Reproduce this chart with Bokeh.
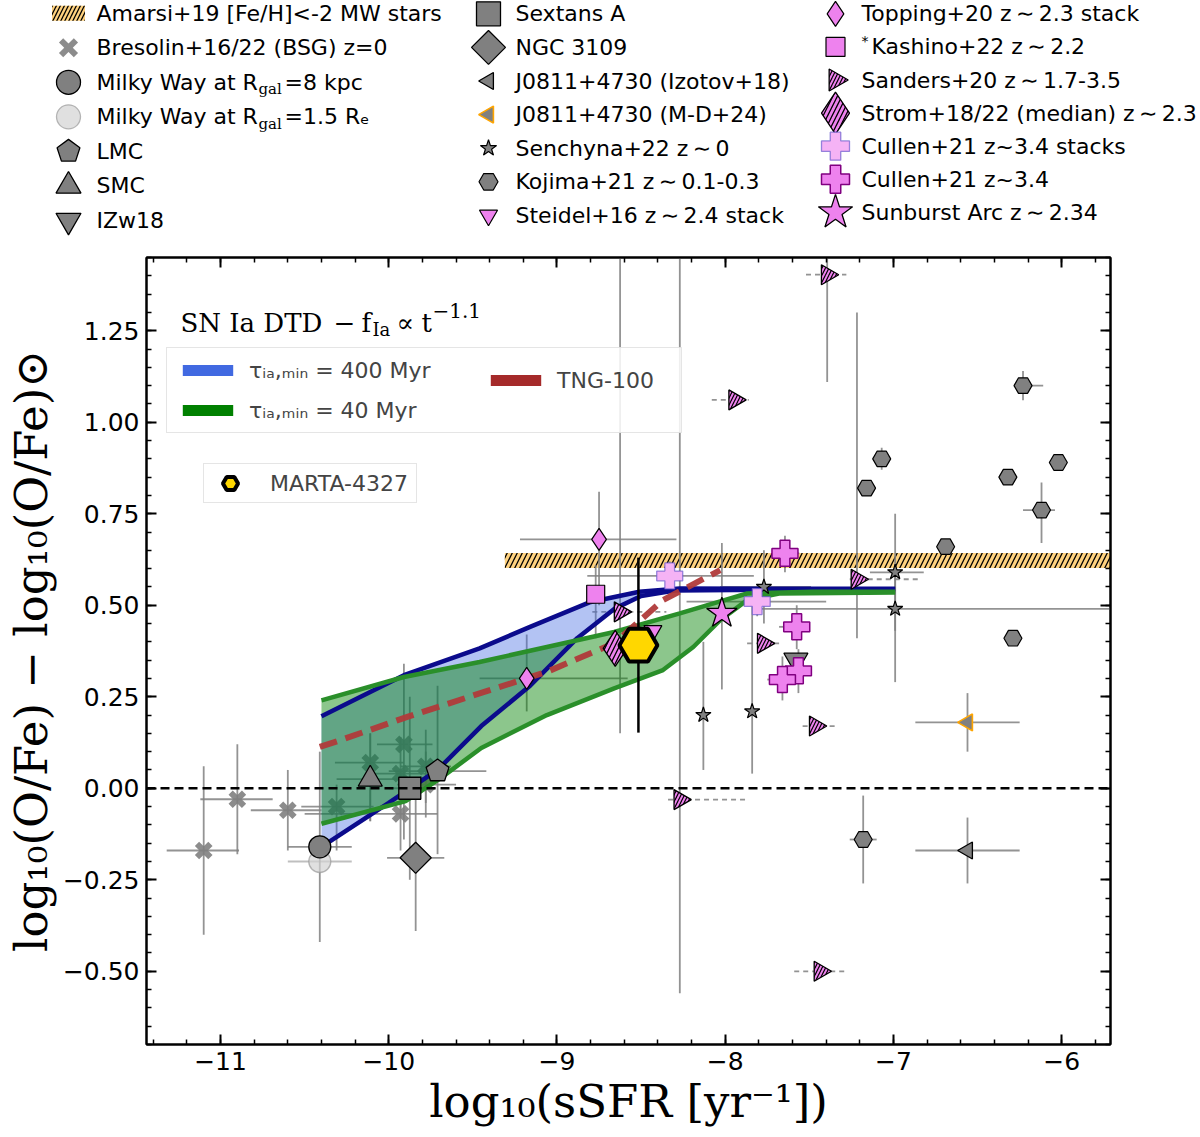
import math
from bokeh.plotting import figure
from bokeh.models import Range1d, FixedTicker, LinearAxis, Span, Legend, LegendItem, Label
from bokeh.core.properties import value
from bokeh.embed import file_html
from bokeh.resources import INLINE

NaN = float("nan")

# ---------------- axis ticks ----------------
x_major_ticks = [-11, -10, -9, -8, -7, -6]
x_major_labels = ["−11", "−10", "−9", "−8", "−7", "−6"]
y_major_ticks = [-0.5, -0.25, 0.0, 0.25, 0.5, 0.75, 1.0, 1.25]
y_major_labels = ["−0.50", "−0.25", "0.00", "0.25", "0.50", "0.75", "1.00", "1.25"]

# ---------------- data ----------------
amarsi_x = [-9.31, -5.71]
amarsi_y = [0.602, 0.643]

bres_x   = [-11.10, -10.90, -10.60, -10.31, -10.11, -9.91, -9.93, -9.78, -9.93, -9.78]
bres_y   = [-0.17, -0.03, -0.06, -0.05, 0.07, 0.12, 0.04, 0.06, -0.07, 0.01]
bres_xlo = [-11.32, -11.12, -10.82, -10.52, -10.32, -10.07, -10.08, -9.93, -10.50, -9.95]
bres_xhi = [-10.89, -10.69, -10.40, -10.09, -9.91, -9.74, -9.78, -9.63, -9.71, -9.60]
bres_ylo = [-0.40, -0.18, -0.17, -0.17, -0.09, -0.14, -0.06, -0.04, -0.17, -0.08]
bres_yhi = [0.06, 0.12, 0.05, 0.01, 0.15, 0.34, 0.14, 0.16, 0.03, 0.10]

mw8_x, mw8_y = [-10.41], [-0.16]
mw8_xlo, mw8_xhi, mw8_ylo, mw8_yhi = [-10.60], [-10.22], [-0.42], [0.10]
mw15_x, mw15_y = [-10.41], [-0.20]
mw15_xlo, mw15_xhi, mw15_ylo, mw15_yhi = [-10.60], [-10.22], [NaN], [NaN]
lmc_x, lmc_y = [-9.71], [0.047]
lmc_xlo, lmc_xhi, lmc_ylo, lmc_yhi = [-10.0], [-9.42], [-0.18], [0.28]
smc_x, smc_y = [-10.11], [0.025]
smc_xlo, smc_xhi, smc_ylo, smc_yhi = [-10.31], [-9.91], [-0.09], [0.15]
sext_x, sext_y = [-9.875], [0.0]
sext_xlo, sext_xhi, sext_ylo, sext_yhi = [-10.0], [-9.72], [-0.25], [0.25]
ngc_x, ngc_y = [-9.84], [-0.19]
ngc_xlo, ngc_xhi, ngc_ylo, ngc_yhi = [-10.01], [-9.67], [-0.39], [0.01]
izw_x, izw_y = [-7.58], [0.35]
jiz_x, jiz_y = [-6.56], [-0.17]
jiz_xlo, jiz_xhi, jiz_ylo, jiz_yhi = [-6.87], [-6.25], [-0.26], [-0.08]
jmd_x, jmd_y = [-6.56], [0.18]
jmd_xlo, jmd_xhi, jmd_ylo, jmd_yhi = [-6.87], [-6.25], [0.10], [0.26]

sen_x   = [-8.13, -7.84, -7.77, -6.99, -6.99]
sen_y   = [0.20, 0.21, 0.55, 0.59, 0.49]
sen_xlo = [NaN, NaN, -8.03, -7.14, -7.79]
sen_xhi = [NaN, NaN, -7.49, -6.82, -5.60]
sen_ylo = [0.05, 0.04, 0.45, 0.43, 0.29]
sen_yhi = [0.40, 0.50, 0.65, 0.75, 0.60]

koj_x   = [-7.07, -7.16, -6.69, -6.23, -6.32, -6.02, -6.12, -6.29, -7.18]
koj_y   = [0.90, 0.82, 0.66, 1.10, 0.85, 0.89, 0.76, 0.41, -0.14]
koj_xlo = [NaN, NaN, NaN, -6.27, NaN, NaN, -6.23, NaN, -7.26]
koj_xhi = [NaN, NaN, NaN, -6.11, NaN, NaN, -6.04, NaN, -7.10]
koj_ylo = [0.87, NaN, NaN, 1.06, NaN, NaN, 0.67, NaN, -0.26]
koj_yhi = [0.93, NaN, NaN, 1.14, NaN, NaN, 0.835, NaN, -0.02]

steidel_x, steidel_y = [-8.43], [0.43]

top_x   = [-8.75, -9.18]
top_y   = [0.68, 0.30]
top_xlo = [-9.22, -9.46]
top_xhi = [-8.29, -8.58]
top_ylo = [0.50, 0.21]
top_yhi = [0.81, 0.42]

kash_x, kash_y = [-8.77], [0.53]
kash_xlo, kash_xhi, kash_ylo, kash_yhi = [NaN], [NaN], [0.41], [0.61]

san_x   = [-7.394, -7.944, -7.217, -8.625, -7.774, -7.465, -8.27, -7.437]
san_y   = [1.403, 1.061, 0.571, 0.482, 0.396, 0.17, -0.031, -0.50]
san_xlo = [-7.52, -8.08, -7.26, -8.79, -7.87, -7.54, -8.34, -7.59]
san_xhi = [-7.28, -7.86, -6.84, -8.35, -7.68, -7.34, -7.88, -7.29]
san_ylo = [1.11, NaN, 0.41, 0.15, NaN, NaN, -0.56, NaN]
san_yhi = [1.60, NaN, 1.30, 1.60, NaN, NaN, 1.60, NaN]

strom_x, strom_y = [-8.654], [0.382]

cst_x   = [-8.33, -7.81]
cst_y   = [0.58, 0.51]
cst_xlo = [-8.82, -8.23]
cst_xhi = [-7.83, -7.40]
cst_ylo = [0.54, 0.47]
cst_yhi = [0.62, 0.55]

cul_x   = [-7.645, -7.575, -7.565, -7.66]
cul_y   = [0.642, 0.441, 0.321, 0.297]
cul_xlo = [-7.72, -7.68, NaN, -7.75]
cul_xhi = [-7.56, -7.50, NaN, -7.60]
cul_ylo = [0.59, 0.38, 0.26, 0.24]
cul_yhi = [0.69, 0.50, 0.38, 0.36]

sun_x, sun_y = [-8.02], [0.478]
sun_xlo, sun_xhi, sun_ylo, sun_yhi = [NaN], [NaN], [0.27], [0.67]

marta_x, marta_y = [-8.516], [0.391]
marta_ylo, marta_yhi = [0.152], [0.63]

# SN Ia DTD model envelopes
t400_up_x = [-10.40, -9.91, -9.46, -9.16, -8.80, -8.51, -8.27, -7.80, -7.40, -6.99]
t400_up_y = [0.197, 0.309, 0.382, 0.441, 0.509, 0.537, 0.546, 0.545, 0.545, 0.545]
t400_lo_x = [-10.40, -10.00, -9.71, -9.45, -9.16, -8.88, -8.66, -8.50, -8.30, -7.50, -6.99]
t400_lo_y = [-0.160, -0.040, 0.050, 0.170, 0.280, 0.410, 0.490, 0.525, 0.540, 0.543, 0.543]
t40_up_x = [-10.40, -9.91, -9.46, -9.06, -8.66, -8.27, -8.07, -7.87, -7.48, -6.99]
t40_up_y = [0.240, 0.304, 0.345, 0.386, 0.427, 0.478, 0.505, 0.532, 0.537, 0.537]
t40_lo_x = [-10.40, -9.90, -9.70, -9.45, -9.06, -8.66, -8.37, -8.19, -8.03, -7.87, -7.68, -6.99]
t40_lo_y = [-0.097, -0.035, 0.025, 0.110, 0.200, 0.273, 0.323, 0.386, 0.459, 0.514, 0.532, 0.535]
tng_x = [-10.41, -10.29, -9.89, -9.46, -9.06, -8.66, -8.37, -8.03]
tng_y = [0.113, 0.131, 0.195, 0.259, 0.318, 0.396, 0.514, 0.596]

# ---------------- layout ----------------
X_RANGE = (-11.44, -5.71)
Y_RANGE = (-0.70, 1.45)
W, H_HDR, H_MAIN = 1200, 240, 897
BL, BR, BT, BB = 146, 90, 17, 93
FW = W - BL - BR
FH = H_MAIN - BT - BB
PAGE_TOP = H_HDR + BT  # frame top in page px


def dx(px):
    return X_RANGE[0] + (px - BL) / FW * (X_RANGE[1] - X_RANGE[0])


def dy(py):
    return Y_RANGE[1] - (py - PAGE_TOP) / FH * (Y_RANGE[1] - Y_RANGE[0])


def ly(py):
    # legend bottom offset (screen px above frame bottom) for a page-y
    return FH - (py - PAGE_TOP)


UX = (X_RANGE[1] - X_RANGE[0]) / FW   # data units per pixel
UY = (Y_RANGE[1] - Y_RANGE[0]) / FH

GRAY = "#808080"
VIOLET = "#EE82EE"
SANS = "DejaVu Sans"
SERIF = "DejaVu Serif"

STY = {
    "bres": dict(marker="x", size=19, line_color=GRAY, line_width=6, line_alpha=0.9),
    "mw8": dict(marker="circle", size=22, fill_color=GRAY, line_color="black", line_width=1.3),
    "mw15": dict(marker="circle", size=22, fill_color="#d3d3d3", fill_alpha=0.7,
                 line_color="#9a9a9a", line_width=1.3, line_alpha=0.7),
    "smc": dict(marker="triangle", size=24, fill_color=GRAY, line_color="black", line_width=1.3),
    "izw": dict(marker="inverted_triangle", size=24, fill_color=GRAY, line_color="black", line_width=1.3),
    "sext": dict(marker="square", size=22, fill_color=GRAY, line_color="black", line_width=1.3),
    "ngc": dict(marker="square", size=22, angle=math.pi / 4, fill_color=GRAY, line_color="black", line_width=1.3),
    "jiz": dict(marker="triangle", size=17, angle=math.pi / 2, fill_color=GRAY, line_color="black", line_width=1.3),
    "jmd": dict(marker="triangle", size=17, angle=math.pi / 2, fill_color=GRAY, line_color="orange", line_width=1.6),
    "sen": dict(marker="star", size=16, fill_color=GRAY, line_color="black", line_width=1.2),
    "koj": dict(marker="hex", size=18, fill_color=GRAY, line_color="black", line_width=1.2),
    "steidel": dict(marker="inverted_triangle", size=18, fill_color=VIOLET, line_color="black", line_width=1.2),
    "top": dict(marker="diamond", size=24, fill_color=VIOLET, line_color="black", line_width=1.2),
    "kash": dict(marker="square", size=19, fill_color=VIOLET, line_color="black", line_width=1.2),
    "san": dict(marker="triangle", size=21, angle=-math.pi / 2, fill_color=VIOLET, line_color="black",
                line_width=1.3, hatch_pattern="/", hatch_color="black", hatch_scale=7, hatch_weight=1.2),
    "strom": dict(marker="diamond", size=40, fill_color=VIOLET, line_color="black", line_width=1.3,
                  hatch_pattern="/", hatch_color="black", hatch_scale=9, hatch_weight=1.3),
    "cst": dict(marker="plus", size=27, fill_color="#f5b3f5", line_color="#6a5acd", line_alpha=0.7, line_width=1.3),
    "cul": dict(marker="plus", size=27, fill_color=VIOLET, line_color="purple", line_width=1.5),
    "sun": dict(marker="star", size=34, fill_color=VIOLET, line_color="black", line_width=1.3),
    "lmc": dict(fill_color=GRAY, line_color="black", line_width=1.3),
}


def seg_lists(xs, ys, lo, hi, horizontal):
    x0, y0, x1, y1 = [], [], [], []
    for xi, yi, a, b in zip(xs, ys, lo, hi):
        if math.isnan(a) or math.isnan(b):
            continue
        if horizontal:
            x0.append(a); x1.append(b); y0.append(yi); y1.append(yi)
        else:
            x0.append(xi); x1.append(xi); y0.append(a); y1.append(b)
    return x0, y0, x1, y1


def errorbars(fig, xs, ys, xlo, xhi, ylo, yhi, color=GRAY, alpha=0.85, width=1.8, xdash="solid"):
    a = seg_lists(xs, ys, xlo, xhi, True)
    if a[0]:
        fig.segment(x0=a[0], y0=a[1], x1=a[2], y1=a[3], line_color=color,
                    line_alpha=alpha, line_width=width, line_dash=xdash)
    b = seg_lists(xs, ys, ylo, yhi, False)
    if b[0]:
        fig.segment(x0=b[0], y0=b[1], x1=b[2], y1=b[3], line_color=color,
                    line_alpha=alpha, line_width=width)


def pentagon(cx, cy, r, ux, uy):
    xs, ys = [], []
    for k in range(5):
        a = math.pi / 2 + 2 * math.pi * k / 5
        xs.append(cx + r * math.cos(a) * ux)
        ys.append(cy + r * math.sin(a) * uy)
    return xs, ys


# ---------------- main figure ----------------
p = figure(width=W, height=H_MAIN, x_range=Range1d(*X_RANGE), y_range=Range1d(*Y_RANGE),
           output_backend="svg", toolbar_location=None,
           min_border_left=BL, min_border_right=BR, min_border_top=BT, min_border_bottom=BB)
p.grid.visible = False
p.outline_line_color = "black"
p.outline_line_width = 2
p.background_fill_color = "white"

minor_x = [round(-11.4 + 0.2 * i, 3) for i in range(29)]
minor_y = [round(-0.70 + 0.05 * i, 3) for i in range(44)]


def style_axis(ax):
    ax.major_tick_in = 10
    ax.major_tick_out = 0
    ax.minor_tick_in = 5
    ax.minor_tick_out = 0
    ax.major_tick_line_width = 2
    ax.minor_tick_line_width = 1.5
    ax.axis_line_width = 2
    ax.major_label_text_font = SANS
    ax.major_label_text_font_size = "25px"
    ax.major_label_text_color = "black"
    ax.major_label_standoff = 7


p.xaxis.ticker = FixedTicker(ticks=x_major_ticks, minor_ticks=minor_x)
p.yaxis.ticker = FixedTicker(ticks=y_major_ticks, minor_ticks=minor_y)
p.xaxis.major_label_overrides = {float(t): l for t, l in zip(x_major_ticks, x_major_labels)}
p.yaxis.major_label_overrides = {float(t): l for t, l in zip(y_major_ticks, y_major_labels)}
style_axis(p.xaxis[0])
style_axis(p.yaxis[0])
p.xaxis.axis_label = "log₁₀(sSFR [yr⁻¹])"
p.yaxis.axis_label = "log₁₀(O/Fe) − log₁₀(O/Fe)⊙"
for ax in (p.xaxis[0], p.yaxis[0]):
    ax.axis_label_text_font = SERIF
    ax.axis_label_text_font_size = "45px"
    ax.axis_label_text_font_style = "normal"
    ax.axis_label_text_color = "black"
    ax.axis_label_standoff = 2

for place, tk, ticks in (("above", FixedTicker(ticks=x_major_ticks, minor_ticks=minor_x), x_major_ticks),
                         ("right", FixedTicker(ticks=y_major_ticks, minor_ticks=minor_y), y_major_ticks)):
    ax = LinearAxis(ticker=tk)
    style_axis(ax)
    ax.major_label_overrides = {float(t): "" for t in ticks}
    ax.major_label_text_font_size = "0px"
    ax.major_label_standoff = 0
    p.add_layout(ax, place)

# Amarsi band
p.quad(left=[amarsi_x[0]], right=[amarsi_x[1]], bottom=[amarsi_y[0]], top=[amarsi_y[1]],
       fill_color="#FFA500", fill_alpha=0.5, line_color=None,
       hatch_pattern="/", hatch_color="black", hatch_scale=10, hatch_weight=1.3)

# error bars (below bands)
errorbars(p, bres_x, bres_y, bres_xlo, bres_xhi, bres_ylo, bres_yhi)
errorbars(p, mw8_x, mw8_y, mw8_xlo, mw8_xhi, mw8_ylo, mw8_yhi)
errorbars(p, mw15_x, mw15_y, mw15_xlo, mw15_xhi, mw15_ylo, mw15_yhi, alpha=0.5)
errorbars(p, lmc_x, lmc_y, lmc_xlo, lmc_xhi, lmc_ylo, lmc_yhi)
errorbars(p, smc_x, smc_y, smc_xlo, smc_xhi, smc_ylo, smc_yhi)
errorbars(p, sext_x, sext_y, sext_xlo, sext_xhi, sext_ylo, sext_yhi)
errorbars(p, ngc_x, ngc_y, ngc_xlo, ngc_xhi, ngc_ylo, ngc_yhi)
errorbars(p, jiz_x, jiz_y, jiz_xlo, jiz_xhi, jiz_ylo, jiz_yhi)
errorbars(p, jmd_x, jmd_y, jmd_xlo, jmd_xhi, jmd_ylo, jmd_yhi)
errorbars(p, sen_x, sen_y, sen_xlo, sen_xhi, sen_ylo, sen_yhi)
errorbars(p, koj_x, koj_y, koj_xlo, koj_xhi, koj_ylo, koj_yhi)
errorbars(p, top_x, top_y, top_xlo, top_xhi, top_ylo, top_yhi)
errorbars(p, kash_x, kash_y, kash_xlo, kash_xhi, kash_ylo, kash_yhi)
errorbars(p, san_x, san_y, san_xlo, san_xhi, [NaN] * len(san_x), [NaN] * len(san_x), xdash="5 4")
errorbars(p, san_x, san_y, [NaN] * len(san_x), [NaN] * len(san_x), san_ylo, san_yhi)
errorbars(p, cst_x, cst_y, cst_xlo, cst_xhi, cst_ylo, cst_yhi)
errorbars(p, cul_x, cul_y, cul_xlo, cul_xhi, cul_ylo, cul_yhi)
errorbars(p, sun_x, sun_y, sun_xlo, sun_xhi, sun_ylo, sun_yhi)

p.scatter(bres_x, bres_y, **STY["bres"])

# model bands
band400_x = t400_up_x + t400_lo_x[::-1]
band400_y = t400_up_y + t400_lo_y[::-1]
band40_x = t40_up_x + t40_lo_x[::-1]
band40_y = t40_up_y + t40_lo_y[::-1]
p.patch(band400_x, band400_y, fill_color="royalblue", fill_alpha=0.4, line_color=None)
p.patch(band40_x, band40_y, fill_color="green", fill_alpha=0.45, line_color=None)
p.line(t400_up_x, t400_up_y, line_color="#0b0b8c", line_width=4.5)
p.line(t400_lo_x, t400_lo_y, line_color="#0b0b8c", line_width=4.5)
p.line(t40_up_x, t40_up_y, line_color="#2a8f2a", line_width=4.5)
p.line(t40_lo_x, t40_lo_y, line_color="#2a8f2a", line_width=4.5)
p.line(tng_x, tng_y, line_color="#b03a3a", line_width=6, line_dash="18 9", line_alpha=0.95)

p.add_layout(Span(location=0, dimension="width", line_color="black", line_width=2.5, line_dash="9 5"))

# markers
p.scatter(mw15_x, mw15_y, **STY["mw15"])
p.scatter(mw8_x, mw8_y, **STY["mw8"])
lx, lyy = pentagon(lmc_x[0], lmc_y[0], 12, UX, UY)
p.patch(lx, lyy, **STY["lmc"])
p.scatter(smc_x, smc_y, **STY["smc"])
p.scatter(sext_x, sext_y, **STY["sext"])
p.scatter(ngc_x, ngc_y, **STY["ngc"])
p.scatter(izw_x, izw_y, **STY["izw"])
p.scatter(jiz_x, jiz_y, **STY["jiz"])
p.scatter(jmd_x, jmd_y, **STY["jmd"])
p.scatter(sen_x, sen_y, **STY["sen"])
p.scatter(koj_x, koj_y, **STY["koj"])
p.scatter(steidel_x, steidel_y, **STY["steidel"])
p.scatter(top_x, top_y, **dict(STY["top"], size=22))
p.scatter(kash_x, kash_y, **dict(STY["kash"], size=18))
p.scatter(san_x, san_y, **dict(STY["san"], size=20))
p.scatter(strom_x, strom_y, **dict(STY["strom"], size=36))
p.scatter(cst_x, cst_y, **dict(STY["cst"], size=26))
p.scatter(cul_x, cul_y, **dict(STY["cul"], size=26))
p.scatter(sun_x, sun_y, **dict(STY["sun"], size=32))

# MARTA-4327
p.segment(x0=marta_x, y0=marta_ylo, x1=marta_x, y1=marta_yhi, line_color="black", line_width=2.5)
r_marta = p.scatter(marta_x, marta_y, marker="hex", size=38, fill_color="gold",
                    line_color="black", line_width=4)

# hidden solid-colour copies of the model curves, used only as legend swatches
r_blue = p.patch(band400_x, band400_y, fill_color="royalblue", line_color=None, visible=False)
r_green = p.patch(band40_x, band40_y, fill_color="green", line_color=None, visible=False)
r_red = p.patch(band40_x, band40_y, fill_color="brown", line_color=None, visible=False)

leg_tau = Legend(items=[LegendItem(label="τᵢₐ,ₘᵢₙ = 400 Myr", renderers=[r_blue]),
                        LegendItem(label="τᵢₐ,ₘᵢₙ = 40 Myr", renderers=[r_green])],
                 location=(166 - BL, ly(433)), orientation="vertical",
                 glyph_width=63, glyph_height=14, label_text_font=SANS, label_text_font_size="22px",
                 label_standoff=10, label_width=(680 - 166) - 2 * 9 - 63 - 10, label_height=26,
                 spacing=14, padding=9, margin=0, border_line_color="#cccccc", border_line_width=1,
                 background_fill_alpha=0.85, inactive_fill_alpha=0)
p.add_layout(leg_tau)
leg_tng = Legend(items=[LegendItem(label="TNG-100", renderers=[r_red])],
                 location=(493 - BL - 9, ly(349 + 9 + 26 + 9)), orientation="vertical",
                 glyph_width=63, glyph_height=14, label_text_font=SANS, label_text_font_size="22px",
                 label_standoff=10, label_height=26, spacing=14, padding=9, margin=0,
                 border_line_color=None, background_fill_alpha=0, inactive_fill_alpha=0)
p.add_layout(leg_tng)

leg_marta = Legend(items=[LegendItem(label="MARTA-4327", renderers=[r_marta])],
                   location=(203 - BL, ly(503)), glyph_width=52, glyph_height=38,
                   label_text_font=SANS, label_text_font_size="22px", label_standoff=14,
                   label_width=146, padding=0, margin=0, border_line_color="#cccccc",
                   border_line_width=1, background_fill_alpha=0.85)
p.add_layout(leg_marta)

# "SN Ia DTD - f_Ia ∝ t^-1.1"
sn_pieces = [("SN Ia DTD", 180, 322, "26px"), ("−", 333, 322, "26px"), ("f", 361, 322, "26px"),
             ("Ia", 372, 329, "18px"), ("∝", 396, 322, "26px"), ("t", 421, 322, "26px"),
             ("−1.1", 432, 310, "20px")]
for txt, px, py, fs in sn_pieces:
    p.add_layout(Label(x=dx(px), y=dy(py), text=txt, text_font=SERIF,
                       text_font_size=fs, text_baseline="alphabetic", text_align="left",
                       text_color="black"))

# ---------------- header legend (separate root above the plot) ----------------
hdr = figure(width=W, height=H_HDR, x_range=Range1d(0, W), y_range=Range1d(0, H_HDR),
             x_axis_type=None, y_axis_type=None, output_backend="svg", toolbar_location=None,
             min_border=0, outline_line_color=None)

HDR_GLYPH_X = [68, 488, 835]
HDR_TEXT_X = [96, 515, 861]
HDR_ROW0 = [12.7, 13.3, 13.3]
HDR_STEP = [34.55, 33.6, 33.1]


def hy(col, row, off=0.0):
    return H_HDR - (HDR_ROW0[col] + HDR_STEP[col] * row + off)


TS = "\u2009∼\u2009"
hdr_entries = [
    (0, 0, "amarsi", "Amarsi+19 [Fe/H]<-2 MW stars", None),
    (0, 1, "bres", "Bresolin+16/22 (BSG) z=0", 21),
    (0, 2, "mw8", "Milky Way at R", 24),
    (0, 3, "mw15", "Milky Way at R", 24),
    (0, 4, "lmc", "LMC", 12),
    (0, 5, "smc", "SMC", 25),
    (0, 6, "izw", "IZw18", 25),
    (1, 0, "sext", "Sextans A", 24),
    (1, 1, "ngc", "NGC 3109", 24),
    (1, 2, "jiz", "J0811+4730 (Izotov+18)", 17),
    (1, 3, "jmd", "J0811+4730 (M-D+24)", 17),
    (1, 4, "sen", "Senchyna+22 z" + TS + "0", 17),
    (1, 5, "koj", "Kojima+21 z" + TS + "0.1-0.3", 19),
    (1, 6, "steidel", "Steidel+16 z" + TS + "2.4 stack", 18),
    (2, 0, "top", "Topping+20 z" + TS + "2.3 stack", 25),
    (2, 1, "kash", "Kashino+22 z" + TS + "2.2", 19),
    (2, 2, "san", "Sanders+20 z" + TS + "1.7-3.5", 22),
    (2, 3, "strom", "Strom+18/22 (median) z" + TS + "2.3", 42),
    (2, 4, "cst", "Cullen+21 z~3.4 stacks", 28),
    (2, 5, "cul", "Cullen+21 z~3.4", 28),
    (2, 6, "sun", "Sunburst Arc z" + TS + "2.34", 36),
]

tx, ty, tt = [], [], []
for col, row, key, label, size in hdr_entries:
    gx, gy = HDR_GLYPH_X[col], hy(col, row)
    if key == "amarsi":
        hdr.quad(left=[gx - 16.5], right=[gx + 16.5], bottom=[gy - 7.5], top=[gy + 7.5],
                 fill_color="#FFA500", fill_alpha=0.5, line_color=None,
                 hatch_pattern="/", hatch_color="black", hatch_scale=8, hatch_weight=1.3)
    elif key == "lmc":
        pxs, pys = pentagon(gx, gy, size, 1, 1)
        hdr.patch(pxs, pys, **STY["lmc"])
    else:
        hdr.scatter([gx], [gy], **dict(STY[key], size=size))
    tx.append(HDR_TEXT_X[col] + (10 if key == "kash" else 0))
    ty.append(gy)
    tt.append(label)

hdr.text(x=tx, y=ty, text=tt, text_font=value(SANS), text_font_size=value("22px"),
         text_baseline="middle", text_align="left", text_color="black")

# sub/superscript pieces of header labels
hdr.text(x=[258, 258], y=[hy(0, 2, 7), hy(0, 3, 7)], text=["gal", "gal"], text_font=value(SERIF),
         text_font_size=value("15px"), text_baseline="middle", text_align="left", text_color="black")
hdr.text(x=[284, 284], y=[hy(0, 2), hy(0, 3)], text=["=8 kpc", "=1.5 Rₑ"], text_font=value(SANS),
         text_font_size=value("22px"), text_baseline="middle", text_align="left", text_color="black")
hdr.text(x=[861], y=[hy(2, 1, -6)], text=["*"], text_font=value(SANS),
         text_font_size=value("14px"), text_baseline="middle", text_align="left", text_color="black")

open("out.html", "w").write(file_html([hdr, p], INLINE, "chart"))
